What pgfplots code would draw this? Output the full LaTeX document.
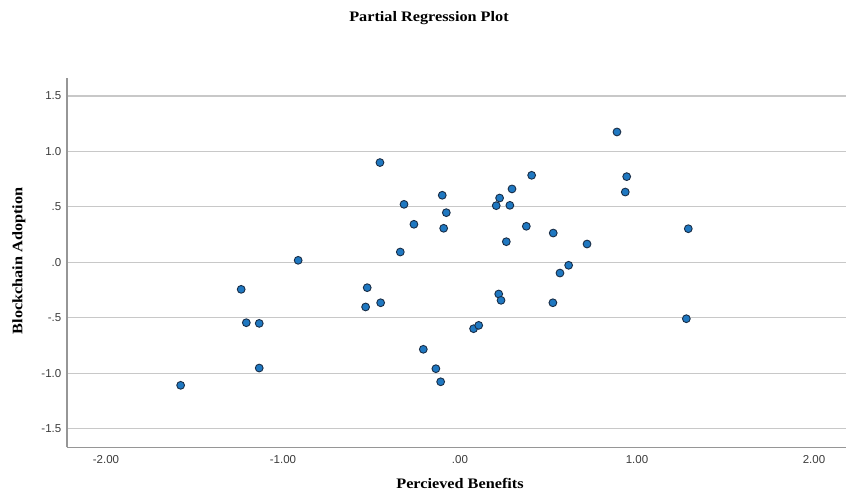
\documentclass[border=0pt]{standalone}
\usepackage{fontspec}
\usepackage{pgfplots}
\pgfplotsset{compat=1.18}
\setmainfont{Liberation Sans}
\newfontfamily\serifb[FakeStretch=1.12]{Liberation Serif}
\definecolor{ptfill}{RGB}{31,120,193}
\definecolor{ptedge}{RGB}{25,45,70}
\definecolor{gridc}{RGB}{200,200,200}
\definecolor{axc}{RGB}{150,150,150}
\definecolor{tickc}{RGB}{60,60,60}
\begin{document}
\begin{tikzpicture}
\path[use as bounding box] (-67pt,-47.5pt) rectangle (779pt,447.5pt);
\begin{axis}[
  at={(0pt,0pt)}, anchor=south west,
  scale only axis, width=779pt, height=369.5pt,
  xmin=-2.220, xmax=2.181, ymin=-1.671, ymax=1.663,
  axis x line=bottom, axis y line=left,
  axis line style={draw=axc, line width=1.4pt, -},
  xtick={-2,-1,0,1,2},
  xticklabels={-2.00,-1.00,.00,1.00,2.00},
  ytick={-1.5,-1,-0.5,0,0.5,1,1.5},
  yticklabels={-1.5,-1.0,-.5,.0,.5,1.0,1.5},
  major tick length=0pt,
  ymajorgrids, xmajorgrids=false,
  major grid style={draw=gridc, line width=1.2pt},
  ticklabel style={font=\fontsize{11.5}{13}\selectfont, text=tickc, inner sep=0pt},
  xticklabel style={anchor=north, yshift=-7.5pt},
  yticklabel style={anchor=east, xshift=-5.5pt},
  clip=false,
]
\addplot[only marks, mark=*, mark size=3.9pt,
  mark options={fill=ptfill, draw=ptedge, line width=0.9pt}]
  table {
x y
-0.452 0.900
-0.316 0.523
-0.100 0.605
-0.077 0.448
-0.260 0.343
-0.092 0.307
-0.337 0.093
-0.914 0.018
-1.236 -0.244
-0.524 -0.229
-0.533 -0.403
-0.448 -0.365
-1.207 -0.545
-1.134 -0.551
0.077 -0.599
0.106 -0.569
-0.207 -0.785
-1.134 -0.954
-0.136 -0.960
-0.109 -1.078
-1.578 -1.110
0.887 1.176
0.405 0.785
0.942 0.773
0.294 0.662
0.934 0.634
0.224 0.580
0.205 0.511
0.282 0.514
0.375 0.325
0.527 0.264
1.290 0.303
0.262 0.186
0.718 0.165
0.614 -0.027
0.565 -0.097
0.219 -0.286
0.232 -0.343
0.525 -0.365
1.279 -0.509
};
\end{axis}
\node[anchor=base, inner sep=0pt, font=\serifb\bfseries\fontsize{14.5}{16}\selectfont] at (362pt,425.8pt) {Partial Regression Plot};
\node[anchor=base, inner sep=0pt, font=\serifb\bfseries\fontsize{14.5}{16}\selectfont] at (393pt,-41.5pt) {Percieved Benefits};
\node[anchor=center, rotate=90, inner sep=0pt, font=\serifb\bfseries\fontsize{14.5}{16}\selectfont] at (-48pt,186.5pt) {Blockchain Adoption};
\end{tikzpicture}
\end{document}
